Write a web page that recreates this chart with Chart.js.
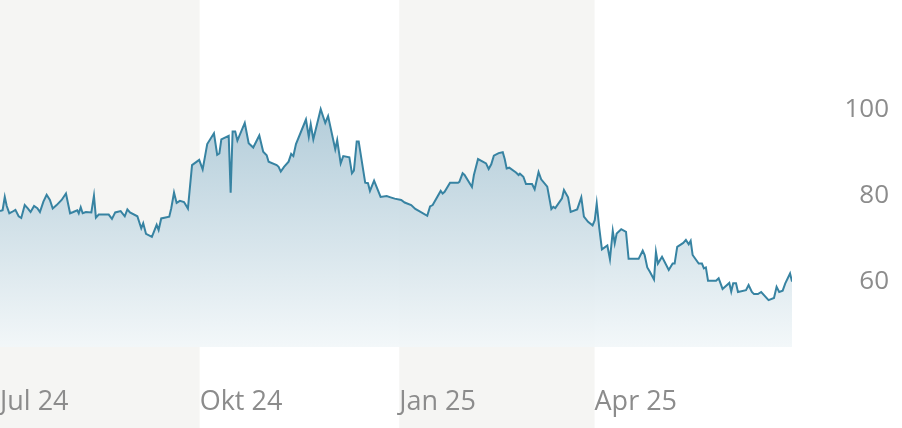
<!DOCTYPE html>
<html>
<head>
<meta charset="utf-8">
<script src="https://cdn.jsdelivr.net/npm/chart.js@4.4.1/dist/chart.umd.min.js"></script>
<style>
    html, body { margin: 0; padding: 0; background: #fff; }
    #wrap { position: relative; width: 902px; height: 428px; }
</style>
</head>
<body>
<div id="wrap"><canvas id="priceChart"></canvas></div>
<script>
// days since 1 Jul 2024 and closing price
const days = [
    0, 1.2, 2.2, 3.1, 4.3, 5.5, 7.1, 8.6, 9.8, 11.4, 12.9, 14.1, 15.7, 17.2, 18.4, 20.0, 21.5, 23.0, 24.3, 26.1,
    28.4, 30.4, 32.3, 33.8, 35.6, 36.3, 37.2, 38.1, 39.6, 42.1, 43.3, 44.2, 45.5, 46.7, 50.1, 51.6, 53.1, 55.6, 57.5, 58.7,
    59.9, 63.3, 65.1, 66.0, 67.3, 70.0, 72.2, 73.1, 74.3, 78.0, 78.9, 80.2, 81.4, 82.9, 84.8, 86.6, 88.5, 91.8, 93.4, 95.5,
    98.6, 100.1, 101.1, 102.0, 105.4, 106.3, 107.2, 108.4, 109.4, 112.8, 114.6, 116.7, 119.5, 121.3, 122.9, 123.8, 127.5, 128.4, 129.4, 130.9,
    133.0, 134.2, 135.2, 136.4, 141.0, 142.3, 143.2, 144.4, 147.8, 149.9, 151.2, 154.5, 155.4, 157.0, 158.2, 161.0, 162.2, 163.1, 164.4, 165.3,
    168.3, 169.6, 170.5, 172.4, 175.4, 178.2, 180.0, 181.9, 184.9, 186.5, 189.5, 191.4, 193.2, 196.9, 198.2, 199.4, 203.1, 204.0, 204.9, 207.4,
    211.1, 211.7, 213.2, 214.1, 217.5, 218.4, 220.3, 224.0, 225.2, 226.4, 227.6, 229.8, 231.7, 232.6, 233.5, 234.7, 237.8, 239.0, 239.6, 241.2,
    242.4, 245.2, 246.4, 248.2, 249.4, 252.2, 254.1, 255.0, 255.9, 259.0, 259.9, 261.8, 263.0, 266.0, 267.9, 269.1, 271.0, 273.1, 274.1, 275.0,
    276.2, 277.4, 279.9, 281.1, 282.4, 283.3, 284.2, 286.3, 288.5, 289.7, 294.3, 296.2, 297.1, 298.3, 299.5, 301.4, 302.3, 303.2, 305.1, 308.2,
    310.0, 310.9, 312.1, 314.9, 316.1, 317.4, 318.3, 319.2, 322.0, 323.5, 324.4, 325.3, 326.3, 330.0, 331.2, 333.0, 336.1, 337.0, 337.9, 339.2,
    340.1, 343.8, 345.0, 346.5, 347.5, 349.3, 350.8, 354.2, 356.7, 357.9, 359.1, 360.7, 361.9, 364.1, 365.0
];
const prices = [
    76.5, 76.7, 79.8, 77.7, 76.0, 76.3, 76.8, 75.3, 74.9, 77.9, 77.1, 76.3, 77.7, 77.2, 76.3, 78.7, 80.3, 79.1, 77.1, 77.9,
    79.1, 80.6, 76.0, 76.3, 76.7, 76.0, 77.4, 76.0, 76.3, 76.2, 80.1, 75.0, 75.7, 75.7, 75.7, 74.7, 76.2, 76.5, 75.3, 76.9,
    76.2, 75.3, 72.5, 73.7, 71.2, 70.5, 73.3, 72.1, 74.8, 75.2, 77.1, 80.8, 78.4, 78.9, 78.6, 77.1, 87.2, 88.4, 86.2, 92.1,
    94.6, 89.6, 89.9, 93.2, 94.0, 80.8, 95.0, 95.0, 92.9, 97.0, 92.3, 91.3, 94.1, 90.3, 89.5, 88.0, 87.2, 86.8, 85.7, 86.8,
    88.0, 89.8, 89.3, 92.1, 97.8, 93.8, 96.7, 93.2, 100.2, 97.0, 98.6, 90.9, 93.0, 87.6, 89.3, 89.0, 85.3, 85.9, 92.7, 92.7,
    83.1, 83.0, 81.2, 83.6, 79.8, 80.0, 79.7, 79.4, 79.1, 78.5, 77.9, 77.0, 76.5, 75.4, 77.6, 77.9, 81.2, 80.6, 81.0, 83.1,
    83.1, 83.3, 85.3, 84.9, 82.1, 84.9, 88.6, 87.6, 86.3, 87.4, 89.4, 90.0, 90.2, 88.6, 86.4, 86.6, 85.5, 84.9, 85.2, 84.5,
    82.8, 82.8, 81.6, 85.6, 83.9, 82.2, 77.0, 77.5, 77.2, 79.5, 81.4, 79.7, 76.3, 76.9, 79.7, 75.2, 74.0, 73.2, 74.4, 78.3,
    72.5, 67.6, 68.5, 65.3, 71.9, 69.0, 71.3, 72.3, 71.7, 65.4, 65.4, 67.3, 66.3, 63.4, 62.4, 60.6, 67.0, 64.3, 65.9, 62.8,
    64.3, 64.3, 68.2, 69.1, 69.8, 68.8, 69.6, 66.3, 64.3, 64.3, 63.2, 63.4, 60.3, 60.3, 60.9, 58.4, 59.8, 57.8, 59.7, 59.7,
    57.7, 58.1, 59.3, 57.7, 57.2, 57.2, 57.7, 55.8, 56.3, 58.9, 57.7, 58.0, 59.7, 62.0, 60.1
];

// quarter starts (days since 1 Jul 2024)
const tickDays = [0, 92, 184, 274];
const tickLabels = ['Jul 24', 'Okt 24', 'Jan 25', 'Apr 25'];
const yTicks = [60, 80, 100];
// shaded quarters: Jul-Sep 24 and Jan-Mar 25
const bandStart = [0, 184];
const bandEnd = [92, 274];

const lineColor = '#3783a2';
const labelColor = '#8c8c8c';

// grey quarter bands behind everything
const quarterBands = {
    id: 'quarterBands',
    beforeDraw(chart) {
        const ctx = chart.ctx;
        const x = chart.scales.x;
        ctx.save();
        ctx.fillStyle = '#f5f5f3';
        for (let i = 0; i < bandStart.length; i++) {
            const x0 = x.getPixelForValue(bandStart[i]);
            const x1 = x.getPixelForValue(bandEnd[i]);
            ctx.fillRect(x0, 0, x1 - x0, chart.height);
        }
        ctx.restore();
    }
};

function areaGradient(context) {
    const area = context.chart.chartArea;
    if (!area) return 'rgba(184,208,220,0.9)';
    const g = context.chart.ctx.createLinearGradient(0, area.top, 0, area.bottom);
    g.addColorStop(0, 'rgba(142,179,199,0.92)');
    g.addColorStop(0.43, 'rgba(184,208,220,0.92)');
    g.addColorStop(1, 'rgba(242,247,249,0.92)');
    return g;
}

const ctx = document.getElementById('priceChart');
new Chart(ctx, {
    type: 'line',
    data: {
        datasets: [{
            data: days.map((d, i) => ({ x: d, y: prices[i] })),
            borderColor: lineColor,
            borderWidth: 2,
            backgroundColor: areaGradient,
            fill: 'start',
            tension: 0,
            pointRadius: 0
        }]
    },
    options: {
        responsive: true,
        maintainAspectRatio: false,
        animation: false,
        layout: { padding: { left: 0, right: 13, top: 0, bottom: 0 } },
        plugins: {
            legend: { display: false },
            tooltip: { enabled: false }
        },
        scales: {
            x: {
                type: 'linear',
                min: 0,
                max: 365,
                grid: { display: false },
                border: { display: false },
                afterBuildTicks: (scale) => { scale.ticks = tickDays.map(v => ({ value: v })); },
                afterFit: (scale) => {
                    scale.height = 81;
                    scale.paddingLeft = 0;
                    scale.paddingRight = 0;
                },
                ticks: {
                    align: 'start',
                    autoSkip: false,
                    maxRotation: 0,
                    padding: 31,
                    color: labelColor,
                    font: { family: 'Open Sans', size: 27 },
                    callback: (v) => tickLabels[tickDays.indexOf(v)]
                }
            },
            y: {
                position: 'right',
                min: 44.9,
                max: 125.6,
                grid: { display: false },
                border: { display: false },
                afterBuildTicks: (scale) => { scale.ticks = yTicks.map(v => ({ value: v })); },
                afterFit: (scale) => {
                    scale.width = 97;
                    scale.paddingTop = 0;
                    scale.paddingBottom = 0;
                },
                ticks: {
                    crossAlign: 'far',
                    color: labelColor,
                    font: { family: 'Open Sans', size: 26 }
                }
            }
        }
    },
    plugins: [quarterBands]
});
</script>
</body>
</html>
